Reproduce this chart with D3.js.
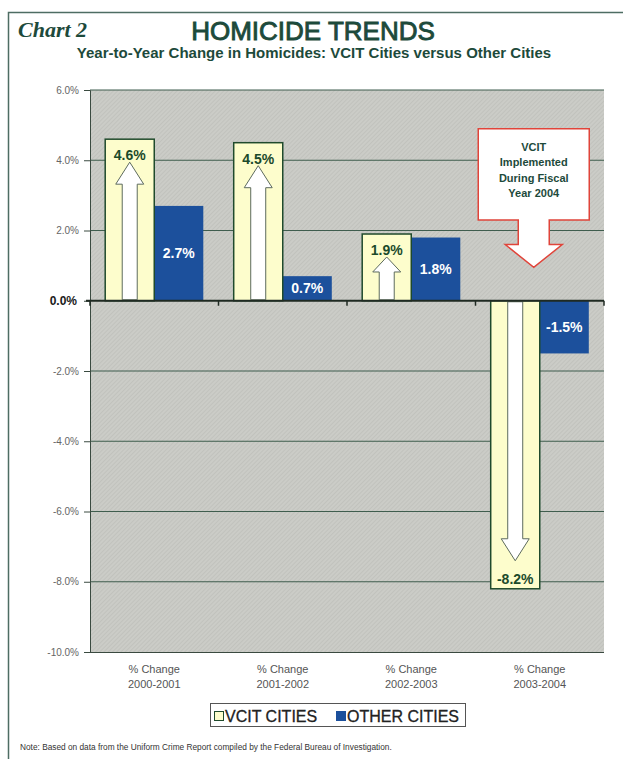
<!DOCTYPE html>
<html>
<head>
<meta charset="utf-8">
<script src="https://cdn.jsdelivr.net/npm/d3@7"></script>
<style>
  html, body { margin: 0; padding: 0; background: #ffffff; }
  svg { display: block; }
</style>
</head>
<body>
<svg id="chart" width="623" height="759"></svg>
<script>
// Year-to-year change in homicides, VCIT cities vs. other cities
const categories = ["2000-2001", "2001-2002", "2002-2003", "2003-2004"];
const seriesNames = ["VCIT CITIES", "OTHER CITIES"];
const vcitValues = [4.6, 4.5, 1.9, -8.2];
const otherValues = [2.7, 0.7, 1.8, -1.5];
const yTicks = [6, 4, 2, 0, -2, -4, -6, -8, -10];
const calloutLines = ["VCIT", "Implemented", "During Fiscal", "Year 2004"];

const svg = d3.select("#chart");
const green = "#1d4a3b";
const font = "Arial, 'Liberation Sans', Helvetica, sans-serif";
// percent format with a plain hyphen for negatives
const pct = v => d3.format(".1f")(v).replace("\u2212", "-") + "%";

// page frame
svg.append("path")
  .attr("d", "M8.5,759 L8.5,12.5 L623,12.5")
  .attr("fill", "none").attr("stroke", "#4e6d63").attr("stroke-width", 1.5);

// titles
svg.append("text").attr("x", 18).attr("y", 37)
  .attr("font-family", "'Liberation Serif', 'Times New Roman', serif")
  .attr("font-style", "italic").attr("font-weight", "bold")
  .attr("font-size", 22).attr("fill", green).text("Chart 2");
svg.append("text").attr("x", 313).attr("y", 40).attr("text-anchor", "middle")
  .attr("font-family", font).attr("font-size", 26).attr("fill", green)
  .attr("stroke", green).attr("stroke-width", 0.9)
  .text("HOMICIDE TRENDS");
svg.append("text").attr("x", 314).attr("y", 58).attr("text-anchor", "middle")
  .attr("font-family", font).attr("font-weight", "bold").attr("font-size", 15)
  .attr("fill", green)
  .text("Year-to-Year Change in Homicides: VCIT Cities versus Other Cities");

// scales
const plot = { left: 90, right: 604, top: 90, bottom: 652 };
const y = d3.scaleLinear().domain([-10, 6]).range([plot.bottom, plot.top]);
const x = d3.scaleBand().domain(categories).range([plot.left, plot.right]).padding(0);
const xs = d3.scaleBand().domain(seriesNames).range([0, x.bandwidth()])
  .paddingInner(0).paddingOuter(0.31);

// plot background with fine texture
const defs = svg.append("defs");
const pat = defs.append("pattern").attr("id", "tex")
  .attr("width", 3).attr("height", 3).attr("patternUnits", "userSpaceOnUse")
  .attr("patternTransform", "rotate(45)");
pat.append("rect").attr("width", 3).attr("height", 3).attr("fill", "#cbccc7");
pat.append("rect").attr("width", 1).attr("height", 3).attr("fill", "#c1c2bd");

svg.append("rect")
  .attr("x", plot.left).attr("y", plot.top)
  .attr("width", plot.right - plot.left).attr("height", plot.bottom - plot.top)
  .attr("fill", "url(#tex)");

// gridlines
svg.append("g").selectAll("line")
  .data(yTicks.filter(d => d !== 0 && d !== -10))
  .join("line")
  .attr("x1", plot.left).attr("x2", plot.right)
  .attr("y1", d => y(d)).attr("y2", d => y(d))
  .attr("stroke", "#3f5d4e").attr("stroke-width", 1);

// y axis
const yAxis = svg.append("g").attr("transform", `translate(${plot.left},0)`)
  .call(d3.axisLeft(y).tickValues(yTicks).tickSize(6).tickPadding(5)
    .tickFormat(pct));
yAxis.select(".domain").attr("stroke", "#3a4a40");
yAxis.selectAll(".tick line").attr("stroke", "#3a4a40");
yAxis.selectAll(".tick text")
  .attr("font-family", font).attr("font-size", 10).attr("fill", "#666");
yAxis.selectAll(".tick").filter(d => d === 0).select("text")
  .attr("font-size", 12).attr("font-weight", "bold").attr("fill", "#1a1a1a")
  .attr("x", -13);
yAxis.selectAll(".tick").filter(d => d === -10).select("line")
  .attr("x2", plot.right - plot.left).attr("x1", -6);

const groups = svg.append("g").selectAll("g")
  .data(categories)
  .join("g")
  .attr("transform", d => `translate(${x(d)},0)`);

// other cities bars
groups.append("rect")
  .attr("x", xs("OTHER CITIES"))
  .attr("width", xs.bandwidth())
  .attr("y", (d, i) => y(Math.max(0, otherValues[i])))
  .attr("height", (d, i) => Math.abs(y(otherValues[i]) - y(0)))
  .attr("fill", "#1c509c");

// VCIT bars
groups.append("rect")
  .attr("x", xs("VCIT CITIES"))
  .attr("width", xs.bandwidth())
  .attr("y", (d, i) => y(Math.max(0, vcitValues[i])))
  .attr("height", (d, i) => Math.abs(y(vcitValues[i]) - y(0)))
  .attr("fill", "#fdfdcc").attr("stroke", "#1f4a2c").attr("stroke-width", 1.5);

// direction arrows inside VCIT bars
function arrowPath(cx, base, tip) {
  const dir = tip < base ? -1 : 1;
  const len = Math.abs(tip - base);
  const headH = Math.min(22, len * 0.35);
  const sw = 7.5, hw = 14;
  const neck = tip - dir * headH;
  return `M${cx - sw},${base} L${cx - sw},${neck} L${cx - hw},${neck} L${cx},${tip}` +
    ` L${cx + hw},${neck} L${cx + sw},${neck} L${cx + sw},${base} Z`;
}
groups.append("path")
  .attr("d", (d, i) => {
    const v = vcitValues[i];
    const cx = xs("VCIT CITIES") + xs.bandwidth() / 2;
    return v >= 0
      ? arrowPath(cx, y(0) - 1, y(v) + 23)
      : arrowPath(cx, y(0) + 1, y(v) - 28);
  })
  .attr("fill", "#ffffff").attr("stroke", "#5d6b5e").attr("stroke-width", 1);

// zero line with category separators
svg.append("line")
  .attr("x1", plot.left - 4).attr("x2", plot.right)
  .attr("y1", y(0)).attr("y2", y(0))
  .attr("stroke", "#1f2a22").attr("stroke-width", 2);
svg.append("g").selectAll("line")
  .data(categories.map(c => x(c)).concat([plot.right]))
  .join("line")
  .attr("x1", d => d).attr("x2", d => d)
  .attr("y1", y(0)).attr("y2", y(0) + 5)
  .attr("stroke", "#1f2a22").attr("stroke-width", 1.5);

// value labels
groups.append("text")
  .attr("x", xs("VCIT CITIES") + xs.bandwidth() / 2)
  .attr("y", (d, i) => vcitValues[i] >= 0 ? y(vcitValues[i]) + 21 : y(vcitValues[i]) - 5)
  .attr("text-anchor", "middle")
  .attr("font-family", font).attr("font-weight", "bold").attr("font-size", 14)
  .attr("fill", "#1b4a2b")
  .text((d, i) => pct(vcitValues[i]));
groups.append("text")
  .attr("x", xs("OTHER CITIES") + xs.bandwidth() / 2)
  .attr("y", (d, i) => (y(otherValues[i]) + y(0)) / 2 + 5)
  .attr("text-anchor", "middle")
  .attr("font-family", font).attr("font-weight", "bold").attr("font-size", 14)
  .attr("fill", "#ffffff")
  .text((d, i) => pct(otherValues[i]));

// category labels
const catLabels = groups.append("text")
  .attr("x", x.bandwidth() / 2)
  .attr("text-anchor", "middle")
  .attr("font-family", font).attr("font-size", 11).attr("fill", "#555");
catLabels.append("tspan").attr("x", x.bandwidth() / 2).attr("y", plot.bottom + 21).text("% Change");
catLabels.append("tspan").attr("x", x.bandwidth() / 2).attr("y", plot.bottom + 36).text(d => d);

// callout over the last category
const lastCat = categories[categories.length - 1];
const cx = x(lastCat) + x.bandwidth() / 2 - 6;
const boxL = cx - 55.5, boxR = cx + 55.5;
const boxT = y(4.9), boxB = y(2.3), neckY = y(1.6), tipY = y(0.95);
const sw = 15.5, hw = 28.5;
svg.append("path")
  .attr("d", `M${boxL},${boxT} L${boxR},${boxT} L${boxR},${boxB} L${cx + sw},${boxB}` +
    ` L${cx + sw},${neckY} L${cx + hw},${neckY} L${cx},${tipY} L${cx - hw},${neckY}` +
    ` L${cx - sw},${neckY} L${cx - sw},${boxB} L${boxL},${boxB} Z`)
  .attr("fill", "#ffffff").attr("stroke", "#e0443a").attr("stroke-width", 1.5);
svg.append("g").selectAll("text")
  .data(calloutLines)
  .join("text")
  .attr("x", cx).attr("y", (d, i) => boxT + 22 + i * 15.5)
  .attr("text-anchor", "middle")
  .attr("font-family", font).attr("font-weight", "bold").attr("font-size", 11)
  .attr("fill", green)
  .text(d => d);

// legend
const legend = svg.append("g");
legend.append("rect").attr("x", 210.5).attr("y", 703.5).attr("width", 255).attr("height", 23)
  .attr("fill", "#ffffff").attr("stroke", "#555").attr("stroke-width", 1);
const legendItems = [
  { name: seriesNames[0], fill: "#fdfdcc", stroke: "#1f4a2c", x: 214 },
  { name: seriesNames[1], fill: "#1c509c", stroke: "#1c509c", x: 336 }
];
legendItems.forEach(it => {
  legend.append("rect").attr("x", it.x + 0.5).attr("y", 711.5).attr("width", 9).attr("height", 9)
    .attr("fill", it.fill).attr("stroke", it.stroke).attr("stroke-width", 1);
  legend.append("text").attr("x", it.x + 11).attr("y", 721.5)
    .attr("font-family", font).attr("font-size", 16).attr("fill", "#222")
    .attr("stroke", "#222").attr("stroke-width", 0.3)
    .text(it.name);
});

// source note
svg.append("text").attr("x", 20).attr("y", 750)
  .attr("font-family", font).attr("font-size", 8.3).attr("fill", "#333")
  .text("Note: Based on data from the Uniform Crime Report compiled by the Federal Bureau of Investigation.");
</script>
</body>
</html>
